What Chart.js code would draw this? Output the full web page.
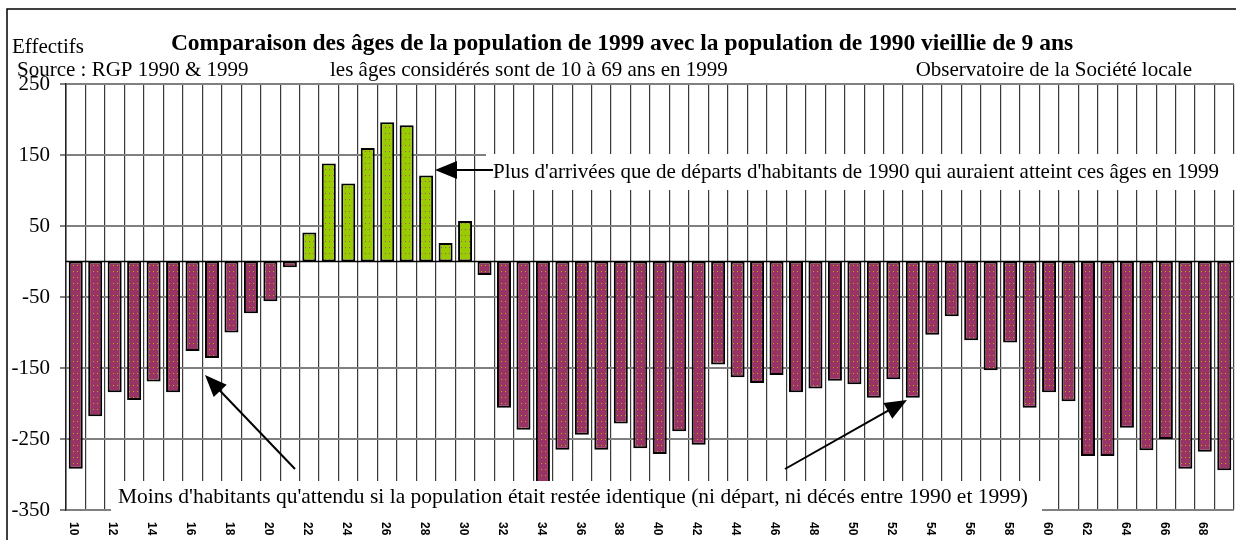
<!DOCTYPE html>
<html lang="fr">
<head>
<meta charset="utf-8">
<script src="https://cdn.jsdelivr.net/npm/chart.js@4"></script>
<style>
  html,body{margin:0;padding:0;background:#fff;}
  #wrap{width:1236px;height:540px;}
</style>
</head>
<body>
<div id="wrap"><canvas id="graph" width="1236" height="540"></canvas></div>
<script>
// Données
const ages=["10","11","12","13","14","15","16","17","18","19","20","21","22","23","24","25","26","27","28","29",
  "30","31","32","33","34","35","36","37","38","39","40","41","42","43","44","45","46","47","48","49",
  "50","51","52","53","54","55","56","57","58","59","60","61","62","63","64","65","66","67","68","69"];
const ecarts=[-292,-218,-184,-195,-169,-184,-126,-136,-100,-73,-56,-8,41,138,110,160,196,192,121,26,
  57,-19,-206,-237,-325,-265,-244,-265,-228,-263,-271,-239,-258,-145,-163,-171,-160,-184,-179,-168,
  -173,-192,-166,-192,-103,-77,-111,-153,-114,-206,-184,-197,-274,-274,-234,-266,-250,-292,-268,-294];
const yTicks=[250,150,50,-50,-150,-250,-350];
const xTickLabels=["10","12","14","16","18","20","22","24","26","28","30","32","34","36","38","40","42","44","46","48",
  "50","52","54","56","58","60","62","64","66","68"];

const titre="Comparaison des âges de la population de 1999 avec la population de 1990 vieillie de 9 ans";
const noteHaut="Plus d'arrivées que de départs d'habitants de 1990 qui auraient atteint ces âges en 1999";
const noteBas="Moins d'habitants qu'attendu si la population était restée identique (ni départ, ni décés entre 1990 et 1999)";

// Motifs pointillés
function motif(fond,point){
  const c=document.createElement("canvas"); c.width=4; c.height=6;
  const g=c.getContext("2d"); g.fillStyle=fond; g.fillRect(0,0,4,6);
  g.fillStyle=point; g.fillRect(1,1,1,1);
  return g.createPattern(c,"repeat");
}
const violet=motif("#993366","#a8b800");
const vert=motif("#99cc00","#b05070");

function fleche(ctx,x1,y1,x2,y2){
  const a=Math.atan2(y2-y1,x2-x1),L=22,W=9;
  ctx.strokeStyle="#000"; ctx.lineWidth=2;
  ctx.beginPath(); ctx.moveTo(x1,y1); ctx.lineTo(x2-Math.cos(a)*L*0.8,y2-Math.sin(a)*L*0.8); ctx.stroke();
  ctx.fillStyle="#000"; ctx.beginPath(); ctx.moveTo(x2,y2);
  ctx.lineTo(x2-Math.cos(a)*L-Math.sin(a)*W,y2-Math.sin(a)*L+Math.cos(a)*W);
  ctx.lineTo(x2-Math.cos(a)*L+Math.sin(a)*W,y2-Math.sin(a)*L-Math.cos(a)*W);
  ctx.closePath(); ctx.fill();
}

const decor={
  id:"decor",
  afterDatasetsDraw(chart){
    const ctx=chart.ctx,x=chart.scales.x,y=chart.scales.y,ca=chart.chartArea;
    ctx.save();
    // axe des catégories en 0
    const y0=y.getPixelForValue(0);
    ctx.strokeStyle="#000"; ctx.lineWidth=1.5;
    ctx.beginPath(); ctx.moveTo(ca.left,y0); ctx.lineTo(ca.right,y0); ctx.stroke();
    // cadres blancs des notes
    ctx.fillStyle="#fff";
    ctx.fillRect(486,154,760,36);
    ctx.fillRect(111,481,931,31);
    ctx.fillStyle="#000"; ctx.textBaseline="alphabetic"; ctx.textAlign="left";
    ctx.font="21px 'Liberation Serif'";
    ctx.fillText(noteHaut,493,178);
    ctx.font="21.5px 'Liberation Serif'";
    ctx.fillText(noteBas,118,503);
    fleche(ctx,493,170,435,170);
    fleche(ctx,295,469,205,375);
    fleche(ctx,785,469,907,400);
    // étiquettes des âges
    ctx.font="bold 12px 'Liberation Sans'"; ctx.textBaseline="middle";
    xTickLabels.forEach(l=>{
      const px=x.getPixelForValue(ages.indexOf(l));
      ctx.save(); ctx.translate(px-2,522); ctx.rotate(Math.PI/2); ctx.fillText(l,0,0); ctx.restore();
    });
    ctx.restore();
  },
  afterDraw(chart){
    const ctx=chart.ctx;
    ctx.save();
    ctx.strokeStyle="#000"; ctx.lineWidth=1.5; ctx.strokeRect(7,9,1260,600);
    ctx.fillStyle="#000"; ctx.textBaseline="alphabetic";
    ctx.font="bold 23.5px 'Liberation Serif'"; ctx.textAlign="center";
    ctx.fillText(titre,622,50);
    ctx.font="21px 'Liberation Serif'"; ctx.textAlign="left";
    ctx.fillText("Effectifs",12,53);
    ctx.fillText("Source : RGP 1990 & 1999",17,76);
    ctx.fillText("les âges considérés sont de 10 à 69 ans en 1999",330,76);
    ctx.textAlign="right";
    ctx.fillText("Observatoire de la Société locale",1192,76);
    ctx.restore();
  }
};

new Chart(document.getElementById("graph"),{
  type:"bar",
  data:{labels:ages,datasets:[{
    data:ecarts,
    backgroundColor:ecarts.map(v=>v>=0?vert:violet),
    borderColor:"#000",borderWidth:2,borderSkipped:false,
    barPercentage:0.72,categoryPercentage:1
  }]},
  options:{
    responsive:false,animation:false,
    layout:{padding:{top:84,right:2,left:0,bottom:0}},
    plugins:{legend:{display:false},tooltip:{enabled:false},title:{display:false}},
    scales:{
      x:{
        grid:{offset:true,color:"#3a3a3a",lineWidth:1.2,drawTicks:false},
        border:{display:false},
        ticks:{display:false},
        afterFit:s=>{s.height=30;}
      },
      y:{
        min:-350,max:250,
        afterBuildTicks:s=>{s.ticks=yTicks.map(v=>({value:v}));},
        afterFit:s=>{s.width=66;},
        ticks:{color:"#000",font:{family:"'Liberation Serif'",size:21},padding:10},
        grid:{color:"#808080",lineWidth:2,tickLength:6},
        border:{color:"#222",width:1.5}
      }
    }
  },
  plugins:[decor]
});
</script>
</body>
</html>
